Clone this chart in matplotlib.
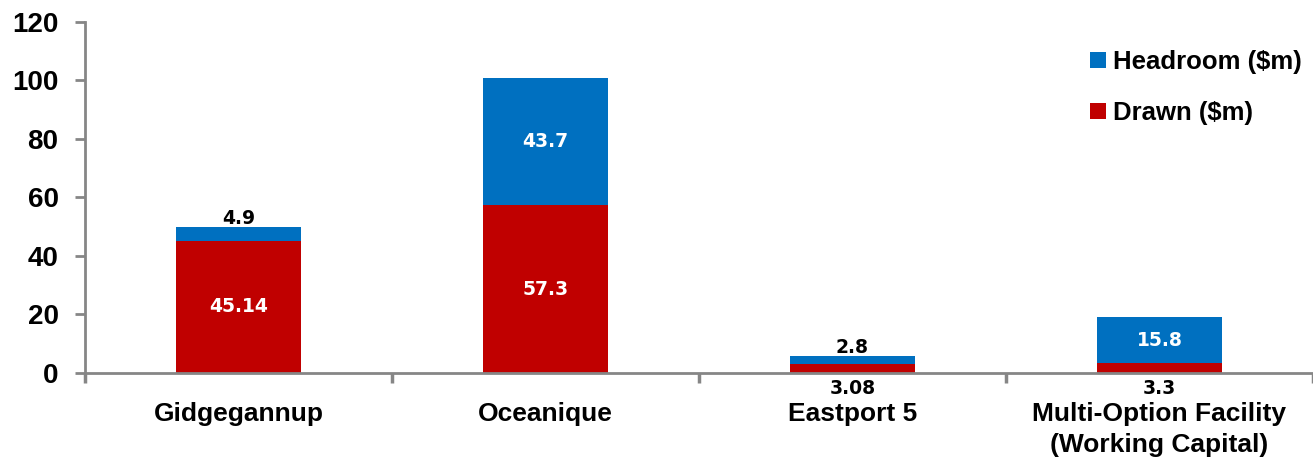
import numpy as np
import matplotlib
matplotlib.use("Agg")
import matplotlib.pyplot as plt

categories = ["Gidgegannup", "Oceanique", "Eastport 5", "Multi-Option Facility\n(Working Capital)"]
drawn = [45.14, 57.3, 3.08, 3.3]
headroom = [4.9, 43.7, 2.8, 15.8]
yticks = [0, 20, 40, 60, 80, 100, 120]

blue = "#0070C0"
red = "#C00000"
grey = "#868686"

plt.rcParams['font.family'] = ['Liberation Sans', 'DejaVu Sans']

fig = plt.figure(figsize=(13.13, 4.63), dpi=100)
ax = fig.add_axes([0.0647, 0.1944, 0.9353, 0.7581])

x = np.arange(len(categories))
w = 0.41
ax.bar(x, drawn, w, color=red, label="Drawn ($m)")
ax.bar(x, headroom, w, bottom=drawn, color=blue, label="Headroom ($m)")

# value labels
for i in range(len(categories)):
    d, h = drawn[i], headroom[i]
    if d > 10:
        ax.text(x[i], d / 2, f"{d:g}", ha="center", va="center", color="white",
                fontsize=13.5, fontweight="bold", family="DejaVu Sans")
    else:
        ax.annotate(f"{d:g}", (x[i], 0), xytext=(0, -4), textcoords="offset points",
                    ha="center", va="top", fontsize=13.5, fontweight="bold", family="DejaVu Sans")
    if h > 10:
        ax.text(x[i], d + h / 2, f"{h:g}", ha="center", va="center", color="white",
                fontsize=13.5, fontweight="bold", family="DejaVu Sans")
    else:
        ax.annotate(f"{h:g}", (x[i], d + h), xytext=(0, -1), textcoords="offset points",
                    ha="center", va="bottom", fontsize=13.5, fontweight="bold", family="DejaVu Sans")

ax.set_xlim(-0.5, len(categories) - 0.5)
ax.set_ylim(0, 120)
ax.set_yticks(yticks)
ax.set_yticklabels([str(t) for t in yticks], fontsize=20, fontweight="bold")

ax.set_xticks(x)
ax.set_xticklabels(categories, fontsize=19, fontweight="bold", linespacing=1.35)
ax.set_xticks(np.arange(len(categories) + 1) - 0.5, minor=True)
ax.tick_params(axis="x", which="major", length=0, pad=21)
ax.tick_params(axis="x", which="minor", length=7, width=2.5, color=grey)
ax.tick_params(axis="y", length=7, width=2, color=grey, pad=12)

for s in ["top", "right"]:
    ax.spines[s].set_visible(False)
for s in ["left", "bottom"]:
    ax.spines[s].set_color(grey)
    ax.spines[s].set_linewidth(2)

handles, labels = ax.get_legend_handles_labels()
ax.legend(handles[::-1], labels[::-1], loc="upper right", bbox_to_anchor=(1.01, 0.985),
          frameon=False, prop={"size": 18.5, "weight": "bold"},
          handlelength=0.6, handleheight=0.6, handletextpad=0.3, labelspacing=1.05)

fig.savefig("out.png", dpi=100)
